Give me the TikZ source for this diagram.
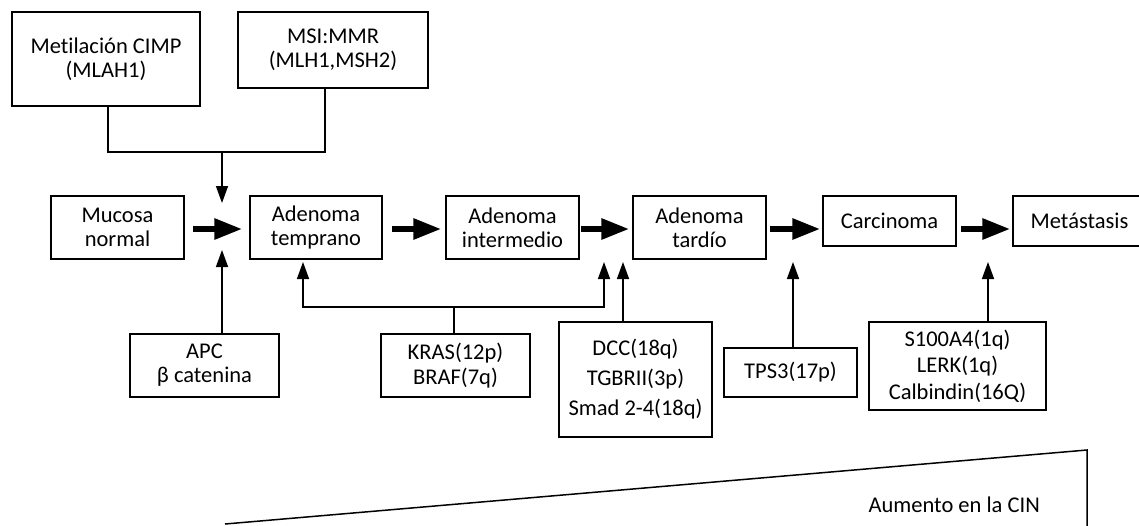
\documentclass[tikz,border=0pt]{standalone}
\usepackage{fontspec}
\setmainfont{Carlito}[Ligatures=NoCommon]
\usetikzlibrary{arrows.meta}
\begin{document}
\begin{tikzpicture}[x=1pt,y=-1pt,
  box/.style={draw,line width=1.5pt,rectangle,inner sep=0pt,align=center,
    font=\fontsize{22.5}{24}\selectfont},
  thick arrow/.style={line width=6pt,-{Triangle[length=28pt,width=20pt]}},
  thin arrow/.style={line width=1.5pt,-{Triangle[length=17pt,width=12pt]}},
  link/.style={line width=1.5pt}]
\useasboundingbox (0,0) rectangle (1139,525);
% top boxes
\node[box,minimum width=188pt,minimum height=94pt] (met) at (106,59) {Metilación CIMP\\(MLAH1)};
\node[box,minimum width=190pt,minimum height=76pt] (msi) at (333,50) {MSI:MMR\\(MLH1,MSH2)};
% main row
\node[box,minimum width=133pt,minimum height=63pt] (muc) at (117.5,227.5) {Mucosa\\normal};
\node[box,minimum width=132pt,minimum height=63pt] (at) at (316,227.5) {Adenoma\\temprano};
\node[box,minimum width=133pt,minimum height=63pt] (ai) at (512.5,227.5) {Adenoma\\intermedio};
\node[box,minimum width=133pt,minimum height=63pt] (ad) at (699.5,227.5) {Adenoma\\tardío};
\node[box,minimum width=133pt,minimum height=50pt] (car) at (889.5,221) {Carcinoma};
\node[box,minimum width=133pt,minimum height=50pt] (mts) at (1079.5,221) {Metástasis};
% bottom boxes
\node[box,minimum width=149pt,minimum height=63pt] (apc) at (204.5,365.5) {APC\\β catenina};
\node[box,minimum width=149pt,minimum height=63pt,font=\fontsize{22.5}{25}\selectfont] (kras) at (455.5,365.5) {KRAS(12p)\\BRAF(7q)};
\node[box,minimum width=153pt,minimum height=115pt,font=\fontsize{22.5}{30}\selectfont] (dcc) at (635.5,379.5) {DCC(18q)\\TGBRII(3p)\\Smad 2-4(18q)};
\node[box,minimum width=133pt,minimum height=49pt] (tps) at (790.5,372.5) {TPS3(17p)};
\node[box,minimum width=177pt,minimum height=88pt,font=\fontsize{22.5}{26.5}\selectfont] (s100) at (957.5,366) {S100A4(1q)\\LERK(1q)\\Calbindin(16Q)};
% thick arrows (all at y = 229)
\coordinate (row) at (0,229);
\draw[thick arrow] ([xshift=8pt]muc.east |- row) -- ([xshift=-7pt]at.west |- row);
\draw[thick arrow] ([xshift=9pt]at.east |- row) -- ([xshift=-4pt]ai.west |- row);
\draw[thick arrow] ([xshift=1pt]ai.east |- row) -- ([xshift=-3pt]ad.west |- row);
\draw[thick arrow] ([xshift=3pt]ad.east |- row) -- ([xshift=-2pt]car.west |- row);
\draw[thick arrow] ([xshift=4pt]car.east |- row) -- ([xshift=-2pt]mts.west |- row);
% top connectors
\coordinate (j1) at (222,152);
\coordinate (t1) at (222,203);
\draw[link] ([xshift=2pt]met.south) |- (j1) -| ([xshift=-8pt]msi.south);
\draw[thin arrow] (j1) -- (t1);
% APC
\coordinate (t2) at (222,250);
\draw[thin arrow] (apc.north -| t2) -- (t2);
% KRAS
\coordinate (j2) at (454,307);
\coordinate (t3) at (303,262);
\coordinate (t4) at (604,262);
\draw[link] (kras.north -| j2) -- (j2);
\draw[thin arrow] (j2) -| (t3);
\draw[thin arrow] (j2) -| (t4);
% DCC
\coordinate (t5) at (623,262);
\draw[thin arrow] (dcc.north -| t5) -- (t5);
% TPS3
\coordinate (t6) at (793,262);
\draw[thin arrow] (tps.north -| t6) -- (t6);
% S100
\coordinate (t7) at (988,262);
\draw[thin arrow] (s100.north -| t7) -- (t7);
% triangle
\coordinate (w1) at (225,524);
\coordinate (w2) at (1087,450);
\coordinate (w3) at (1087,526);
\draw[line width=1.5pt] (w1) -- (w2) -- (w3);
\node[anchor=base east,inner sep=0pt,font=\fontsize{22.5}{24}\selectfont] (cin) at (1040,512) {Aumento en la CIN};
\end{tikzpicture}
\end{document}
